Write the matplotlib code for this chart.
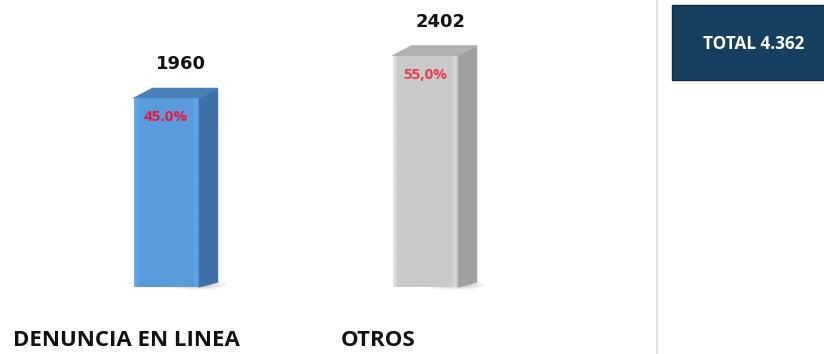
import matplotlib.pyplot as plt
import numpy as np
from matplotlib.patches import Polygon, Rectangle, Ellipse

# denuncias por canal
categorias = ["DENUNCIA EN LINEA", "OTROS"]
valores = [1960, 2402]
porcentajes = ["45.0%", "55,0%"]
total_txt = "TOTAL 4.362"

caras = ["#5a9bdc", "#cacaca"]
lados = ["#3f70a6", "#a0a0a0"]
techos = ["#4a80b8", "#b2b2b2"]
pct_col = ["#e8173c", "#e8404f"]

plt.rcParams['font.family'] = ['Open Sans', 'DejaVu Sans']

W, H = 824, 354
fig = plt.figure(figsize=(W / 100, H / 100), dpi=100)
fig.patch.set_facecolor("white")

# ejes a toda la figura: 259 px entre barras, 0.0962 px por denuncia
ppx = 259.0
ppy = 0.0962
x0_px, base_px = 166.0, 287.0
ax = fig.add_axes([0, 0, 1, 1])
ax.set_xlim(-x0_px / ppx, (W - x0_px) / ppx)
ax.set_ylim(-(H - base_px) / ppy, base_px / ppy)
ax.axis("off")

ancho = 65 / ppx
dx = 19 / ppx
dy = 10 / ppy

x = np.arange(len(valores))
bars = ax.bar(x, valores, width=ancho, color=caras, zorder=3)

# perfil de brillo de la cara frontal: bordes algo más claros
perfil = np.ones(60)
perfil[:4] = [1.12, 1.10, 1.07, 1.04]
perfil[-5:] = [1.03, 1.06, 1.06, 1.02, 0.97]

for i, b in enumerate(bars):
    xl = b.get_x()
    xr = xl + b.get_width()
    h = b.get_height()
    base = np.array(plt.matplotlib.colors.to_rgb(caras[i]))
    img = np.clip(base[None, None, :] * perfil[None, :, None], 0, 1)
    im = ax.imshow(img, extent=[xl, xr, 0, h], aspect="auto", zorder=3.5)
    im.set_clip_path(b)
    # sombra difusa al pie
    for k, a in enumerate([0.05, 0.07, 0.09]):
        ax.add_patch(Ellipse((xr - 2 / ppx, 2 / ppy), (60 - 14 * k) / ppx,
                             (10 - 3 * k) / ppy, color="black", alpha=a,
                             lw=0, zorder=2))
    # cara lateral
    ax.add_patch(Polygon([(xr, 0), (xr + dx, dy * 0.5), (xr + dx, h + dy),
                          (xr, h)], closed=True, color=lados[i], zorder=2.9))
    # techo
    ax.add_patch(Polygon([(xl, h), (xr, h), (xr + dx, h + dy),
                          (xl + dx, h + dy)], closed=True, color=techos[i],
                         zorder=2.9))
    # valor sobre la barra
    ax.text(b.get_x() + b.get_width() / 2 + dx * 0.8, h + dy + 24 / ppy,
            f"{valores[i]}", ha="center", va="center", fontsize=13,
            fontweight="bold", color="#111111", family="DejaVu Sans",
            zorder=5)
    # porcentaje dentro de la barra
    ax.text(b.get_x() + b.get_width() / 2, h - 19 / ppy, porcentajes[i],
            ha="center", va="center", fontsize=11, fontweight="bold",
            color=pct_col[i], zorder=5)

# etiquetas de categoría
fig.text(126 / W, 1 - 341 / H, categorias[0], ha="center", va="center",
         fontsize=16, fontweight="bold", color="#111111")
fig.text(378 / W, 1 - 341 / H, categorias[1], ha="center", va="center",
         fontsize=16, fontweight="bold", color="#111111")

# separador y recuadro del total
fig.add_artist(plt.Line2D([657 / W, 657 / W], [0, 1], color="#dcdcdc", lw=1.2))
fig.add_artist(Rectangle((672 / W, 1 - 80 / H), 170 / W, 75 / H,
                         facecolor="#173f5f", edgecolor="#0f2c44", lw=1,
                         transform=fig.transFigure))
fig.text(754 / W, 1 - 44 / H, total_txt, ha="center", va="center",
         fontsize=12.3, fontweight="bold", color="white")

fig.savefig("out.png", dpi=100, facecolor="white")
